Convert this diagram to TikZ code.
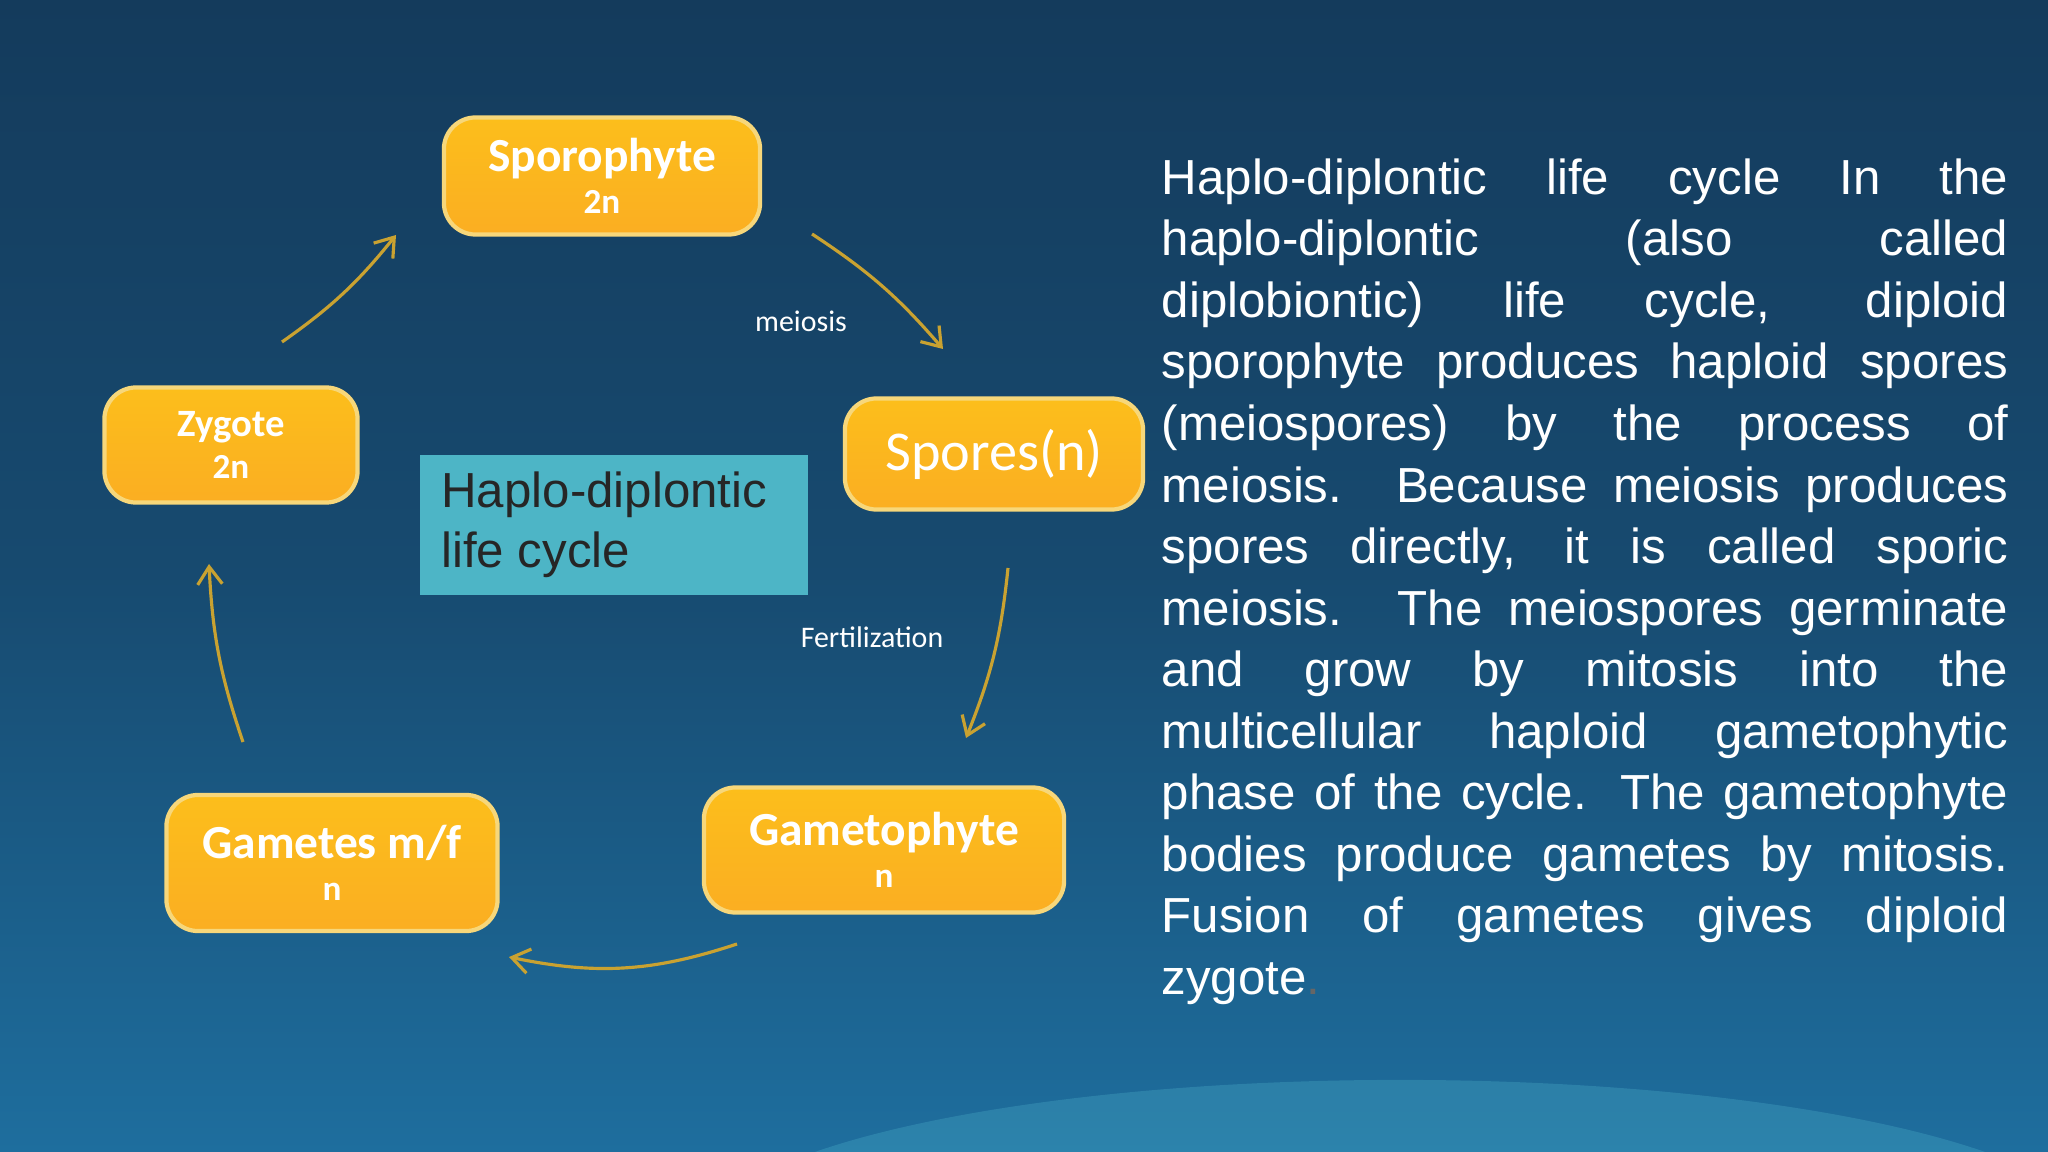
\documentclass[tikz,border=0pt]{standalone}
\usepackage{fontspec}
\setmainfont{Liberation Sans}
\newfontfamily\carlitofont{Carlito}
\usetikzlibrary{arrows.meta}
\definecolor{bgtop}{HTML}{143B5C}
\definecolor{bgbot}{HTML}{1E6E9E}
\definecolor{boxor}{HTML}{FBAE22}
\definecolor{boxedge}{HTML}{F7D77A}
\definecolor{arrc}{HTML}{C9A231}
\definecolor{tealbox}{HTML}{4DB5C6}
\tikzset{
  stagebox/.style={draw=boxedge, line width=1.2pt, rounded corners=9pt, top color=boxor!80!yellow, bottom color=boxor, text=white, align=center, inner sep=0pt, font=\carlitofont\bfseries},
  cyc/.style={draw=arrc, line width=0.9pt, -{Straight Barb[length=5pt,width=7pt]}},
  lbl/.style={text=white, font=\carlitofont\fontsize{8.5}{10}\selectfont}
}
\begin{document}
\begin{tikzpicture}[x=0.01cm,y=-0.01cm]
\useasboundingbox (0,0) rectangle (2048,1152);
\begin{scope}
\clip (0,0) rectangle (2048,1152);
\shade[top color=bgtop, bottom color=bgbot, middle color=bgtop!70!bgbot] (0,0) rectangle (2048,1152);
\fill[bgbot!60!cyan!70!white, opacity=0.25] (1400,1240) ellipse [x radius=7cm, y radius=1.6cm];
\end{scope}

\node[stagebox, minimum width=3.16cm, minimum height=1.17cm] (spo) at (602,176) {\fontsize{13.5}{26}\selectfont Sporophyte\\2n};
\node[stagebox, minimum width=2.98cm, minimum height=1.11cm, font=\carlitofont] (spr) at (994,454) {\fontsize{16}{18}\selectfont Spores(n)};
\node[stagebox, minimum width=3.6cm, minimum height=1.25cm] (gph) at (884,850) {\fontsize{13.5}{26}\selectfont Gametophyte\\n};
\node[stagebox, minimum width=3.31cm, minimum height=1.36cm] (gam) at (332,863) {\fontsize{13.5}{26}\selectfont Gametes m/f\\n};
\node[stagebox, minimum width=2.53cm, minimum height=1.15cm] (zyg) at (231,445) {\fontsize{11}{19}\selectfont Zygote\\2n};

\node[fill=tealbox, minimum width=3.88cm, minimum height=1.4cm, inner sep=0pt, anchor=north west] (ctr) at (419,454) {};
\node[anchor=west, align=left, text=black!85, font=\fontsize{14}{17}\selectfont] (ctrt) at ([xshift=0.1cm]ctr.west) {Haplo-diplontic\\life cycle};

\coordinate (a1) at (282,342); \coordinate (a2) at (396,235);
\coordinate (b1) at (812,234); \coordinate (b2) at (943,349);
\coordinate (c1) at (1008,568); \coordinate (c2) at (966,738);
\coordinate (d1) at (737,944); \coordinate (d2) at (509,957);
\coordinate (e1) at (243,742); \coordinate (e2) at (209,564);
\draw[cyc] (a1) to[bend right=8] (a2);
\draw[cyc] (b1) to[bend left=8] (b2);
\draw[cyc] (c1) to[bend left=8] (c2);
\draw[cyc] (d1) to[bend left=15] (d2);
\draw[cyc] (e1) to[bend left=8] (e2);

\node[lbl] (mei) at (801,321) {meiosis};
\node[lbl] (fer) at (872,637) {Fertilization};

\node[anchor=north west, text width=8.46cm, align=justify, text=white, inner sep=0pt,
  font=\fontsize{14}{17.5}\selectfont] (para) at (1161,158) {%
Haplo-diplontic life cycle In the\linebreak
haplo-diplontic (also called\linebreak
diplobiontic) life cycle, diploid\linebreak
sporophyte produces haploid spores\linebreak
(meiospores) by the process of\linebreak
meiosis. Because meiosis produces\linebreak
spores directly, it is called sporic\linebreak
meiosis. The meiospores germinate\linebreak
and grow by mitosis into the\linebreak
multicellular haploid gametophytic\linebreak
phase of the cycle. The gametophyte\linebreak
bodies produce gametes by mitosis.\linebreak
Fusion of gametes gives diploid\linebreak
zygote{\color{black!60}.}};
\end{tikzpicture}
\end{document}
